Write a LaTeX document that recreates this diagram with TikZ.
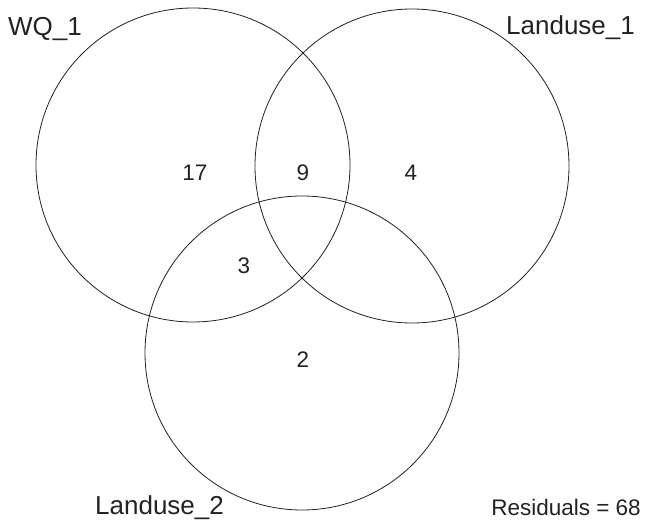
\documentclass[tikz,border=0pt]{standalone}
\usepackage{fontspec}
\setmainfont{Liberation Sans}
\definecolor{ink}{HTML}{222222}
\begin{document}
\begin{tikzpicture}[x=1pt,y=1pt,
  setcircle/.style={circle,draw=ink,line width=0.8pt,inner sep=0pt,minimum size=314pt},
  setlabel/.style={text=ink,inner sep=0pt,font=\fontsize{26}{30}\selectfont},
  countlabel/.style={text=ink,inner sep=0pt,font=\fontsize{22.5}{26}\selectfont,anchor=base}]
\useasboundingbox (0,0) rectangle (646,-521);
\node[setcircle] (wq) at (193,-165) {};
\node[setcircle] (lu1) at (412,-166) {};
\node[setcircle] (lu2) at (302,-353) {};
\node[setlabel,anchor=base west] (lwq) at (8,-36) {WQ\_1};
\node[setlabel,anchor=base west] (llu1) at (506,-35) {Landuse\_1};
\node[setlabel,anchor=base west] (llu2) at (95,-514.5) {Landuse\_2};
\node[countlabel,anchor=base east] (res) at (641,-515) {Residuals = 68};
\node[countlabel] (c17) at (195,-180.5) {17};
\node[countlabel] (c9) at (303,-180.5) {9};
\node[countlabel] (c4) at (411,-180.5) {4};
\node[countlabel] (c3) at (244,-274) {3};
\node[countlabel] (c2) at (303,-368) {2};
\end{tikzpicture}
\end{document}
